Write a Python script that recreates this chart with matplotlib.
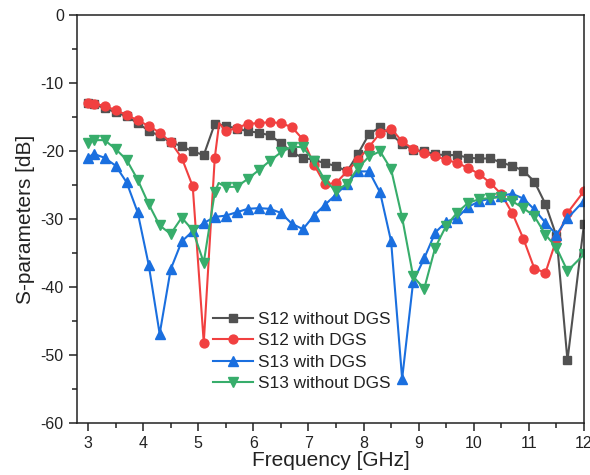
import matplotlib
matplotlib.use("Agg")
import matplotlib.pyplot as plt
from matplotlib.ticker import MultipleLocator

plt.rcParams['font.family'] = ['Liberation Sans', 'DejaVu Sans']
plt.rcParams['axes.unicode_minus'] = False

# Marked sample frequencies (GHz)
freq = [3.0, 3.1, 3.3, 3.5, 3.7, 3.9, 4.1, 4.3, 4.5, 4.7, 4.9,
        5.1, 5.3, 5.5, 5.7, 5.9, 6.1, 6.3, 6.5, 6.7, 6.9,
        7.1, 7.3, 7.5, 7.7, 7.9, 8.1, 8.3, 8.5, 8.7, 8.9,
        9.1, 9.3, 9.5, 9.7, 9.9, 10.1, 10.3, 10.5, 10.7, 10.9,
        11.1, 11.3, 11.5, 11.7, 12.0]

s12_without = [-13.0, -13.1, -13.7, -14.3, -14.9, -15.9, -17.0, -17.8, -18.7, -19.3, -20.05,
               -20.6, -16.0, -16.3, -16.7, -17.1, -17.3, -17.7, -18.8, -20.2, -21.0,
               -21.3, -21.8, -22.2, -23.0, -20.4, -17.5, -16.5, -17.5, -19.0, -19.8,
               -20.05, -20.5, -20.6, -20.6, -21.0, -21.1, -21.1, -21.7, -22.2, -22.9,
               -24.5, -27.8, -32.5, -50.8, -30.7]

s12_with = [-12.96, -13.06, -13.35, -14.0, -14.67, -15.5, -16.3, -17.3, -18.7, -21.0, -25.2,
            -48.2, -21.0, -17.1, -16.6, -16.0, -15.9, -15.75, -15.9, -16.5, -18.3,
            -22.0, -24.9, -24.7, -23.0, -21.3, -19.4, -17.35, -16.7, -18.6, -19.7,
            -20.35, -20.75, -21.3, -21.75, -22.5, -23.4, -24.7, -26.35, -29.15, -32.9,
            -37.3, -37.9, -33.0, -29.1, -25.9]

s13_with = [-21.0, -20.4, -21.0, -22.15, -24.6, -29.0, -36.7, -46.9, -37.4, -33.3, -31.8,
            -30.6, -29.7, -29.5, -29.0, -28.5, -28.4, -28.5, -29.1, -30.7, -31.5,
            -29.5, -27.9, -26.4, -24.8, -23.0, -23.0, -26.1, -33.3, -53.5, -39.2,
            -35.8, -32.0, -30.4, -29.8, -28.2, -27.4, -27.0, -26.55, -26.3, -27.0,
            -28.6, -30.55, -32.3, -29.9, -27.3]

s13_without = [-18.8, -18.4, -18.4, -19.7, -21.3, -24.2, -27.8, -30.95, -32.2, -29.8, -31.65,
               -36.4, -26.1, -25.3, -25.25, -24.1, -22.8, -21.45, -20.2, -19.35, -19.45,
               -21.5, -24.3, -25.9, -24.8, -22.5, -20.8, -20.05, -22.7, -29.8, -38.45,
               -40.25, -34.2, -31.0, -29.05, -27.6, -27.1, -26.9, -26.8, -27.4, -28.4,
               -29.6, -32.3, -34.2, -37.65, -35.2]

# Unmarked in-between samples that shape the curves near 5.35 GHz
s12_with_extra = ([5.38], [-15.9])
s13_without_extra = ([5.37], [-24.7])

labels = ["S12 without DGS", "S12 with DGS", "S13 with DGS", "S13 without DGS"]
colors = ["#515151", "#F14040", "#1A6FDF", "#37AD6B"]
markers = ["s", "o", "^", "v"]
msizes = [5.8, 6.4, 6.8, 6.8]


def merge(xs, ys, extra):
    pts = sorted(list(zip(xs, ys)) + list(zip(*extra)))
    marked_pts = set(zip(xs, ys))
    mx = [p[0] for p in pts]
    my = [p[1] for p in pts]
    marked = [i for i, p in enumerate(pts) if p in marked_pts]
    return mx, my, marked


series = [
    (freq, s12_without, None),
    (freq, s12_with, s12_with_extra),
    (freq, s13_with, None),
    (freq, s13_without, s13_without_extra),
]

fig = plt.figure(figsize=(5.9, 4.75), dpi=100)
ax = fig.add_axes([77 / 590, 1 - 423 / 475, 507 / 590, 408 / 475])

for (xs, ys, extra), lab, c, m, ms in zip(series, labels, colors, markers, msizes):
    if extra is None:
        px, py, every = xs, ys, None
    else:
        px, py, every = merge(xs, ys, extra)
    ax.plot(px, py, color=c, lw=1.5, marker=m, ms=ms, mec=c, mfc=c,
            markevery=every, label=lab)

ax.set_xlim(2.8, 12.0)
ax.set_ylim(-60, 0)
ax.xaxis.set_major_locator(MultipleLocator(1))
ax.xaxis.set_minor_locator(MultipleLocator(0.5))
ax.yaxis.set_major_locator(MultipleLocator(10))
ax.yaxis.set_minor_locator(MultipleLocator(5))
ax.tick_params(which='both', direction='out', top=False, right=False,
               labelsize=11.5, width=1.1, colors='#222222', labelcolor='#222222')
ax.tick_params(which='major', length=6)
ax.tick_params(which='minor', length=3.5)
for sp in ax.spines.values():
    sp.set_linewidth(1.1)
    sp.set_color('#222222')

ax.set_xlabel("Frequency [GHz]", fontsize=15, color='#222222', labelpad=0)
ax.set_ylabel("S-parameters [dB]", fontsize=15, color='#222222', labelpad=4)

leg = ax.legend(loc='upper left', bbox_to_anchor=(0.268, 0.273), frameon=False,
                fontsize=12.4, handlelength=2.35, handletextpad=0.25,
                labelspacing=0.38, borderpad=0, borderaxespad=0)
for t in leg.get_texts():
    t.set_color('#222222')

fig.savefig("out.png", dpi=100)
